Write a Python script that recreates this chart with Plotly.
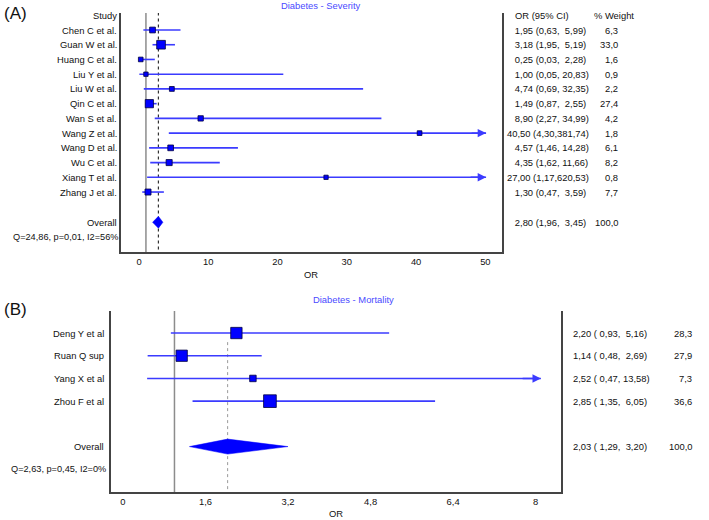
import plotly.graph_objects as go

# ---------------- data ----------------
sev_studies = ["Chen C et al.", "Guan W et al.", "Huang C et al.", "Liu Y et al.", "Liu W et al.",
               "Qin C et al.", "Wan S et al.", "Wang Z et al.", "Wang D et al.", "Wu C et al.",
               "Xiang T et al.", "Zhang J et al."]
sev_or = [1.95, 3.18, 0.25, 1.00, 4.74, 1.49, 8.90, 40.50, 4.57, 4.35, 27.00, 1.30]
sev_lo = [0.63, 1.95, 0.03, 0.05, 0.69, 0.87, 2.27, 4.30, 1.46, 1.62, 1.17, 0.47]
sev_hi = [5.99, 5.19, 2.28, 20.83, 32.35, 2.55, 34.99, 381.74, 14.28, 11.66, 620.53, 3.59]
sev_w = [6.3, 33.0, 1.6, 0.9, 2.2, 27.4, 4.2, 1.8, 6.1, 8.2, 0.8, 7.7]
sev_overall = [2.80, 1.96, 3.45]
sev_overall_w = 100.0
sev_het = "Q=24,86, p=0,01, I2=56%"
sev_title = "Diabetes - Severity"
sev_ticks = [0, 10, 20, 30, 40, 50]
sev_ticklabels = ["0", "10", "20", "30", "40", "50"]

mor_studies = ["Deng Y et al", "Ruan Q sup", "Yang X et al", "Zhou F et al"]
mor_or = [2.20, 1.14, 2.52, 2.85]
mor_lo = [0.93, 0.48, 0.47, 1.35]
mor_hi = [5.16, 2.69, 13.58, 6.05]
mor_w = [28.3, 27.9, 7.3, 36.6]
mor_overall = [2.03, 1.29, 3.20]
mor_overall_w = 100.0
mor_het = "Q=2,63, p=0,45, I2=0%"
mor_title = "Diabetes - Mortality"
mor_ticks = [0, 1.6, 3.2, 4.8, 6.4, 8]
mor_ticklabels = ["0", "1,6", "3,2", "4,8", "6,4", "8"]

# ---------------- styling ----------------
W, H = 709, 520
FONT = "Liberation Sans, Arial, sans-serif"
FS = 9.4
LINE_BLUE = "#3b3bff"
SQ_BLUE = "#0000ff"
TITLE_BLUE = "#4a4aff"
BOX = "#444444"
NBSP = "\u00a0"


def px(x):
    return x / W


def py(y):
    return 1 - y / H


def fmt2(v):
    return f"{v:.2f}".replace(".", ",")


def fmt1(v):
    return f"{v:.1f}".replace(".", ",")


fig = go.Figure()
ann = []


def panel(xa, ya, studies, orv, lo, hi, w, overall, overall_w, het, clip, dia_h,
          overall_row, het_row, sq_fn, dotted_top, dotted_style, label_right, col_text, col_w,
          hdr_or_x, hdr_w_x, ci_fmt):
    n = len(studies)
    rows = list(range(1, n + 1))
    # null line and overall dotted line
    fig.add_trace(go.Scatter(x=[1, 1], y=[-10, 100], mode="lines", xaxis=xa, yaxis=ya,
                             line=dict(color="#8c8c8c", width=1.5), hoverinfo="skip", showlegend=False))
    fig.add_trace(go.Scatter(x=[overall[0], overall[0]], y=[dotted_top, 100], mode="lines",
                             xaxis=xa, yaxis=ya, line=dotted_style,
                             hoverinfo="skip", showlegend=False))
    # CI lines
    lx, ly = [], []
    for r, a, b in zip(rows, lo, hi):
        lx += [a, min(b, clip), None]
        ly += [r, r, None]
    fig.add_trace(go.Scatter(x=lx, y=ly, mode="lines", xaxis=xa, yaxis=ya,
                             line=dict(color=LINE_BLUE, width=1.6), hoverinfo="skip", showlegend=False))
    # arrows for truncated CIs
    for r, a, b in zip(rows, lo, hi):
        if b > clip:
            ann.append(dict(x=clip, y=r, ax=clip - (clip - a) * 0.05, ay=r, xref=xa, yref=ya,
                            axref=xa, ayref=ya, showarrow=True, arrowhead=2, arrowsize=1.2,
                            arrowwidth=1.4, arrowcolor=LINE_BLUE, text=""))
    # squares
    fig.add_trace(go.Scatter(x=orv, y=rows, mode="markers", xaxis=xa, yaxis=ya, opacity=1,
                             marker=dict(symbol="square", size=[sq_fn(v) for v in w], color=SQ_BLUE,
                                         opacity=1, line=dict(color="#000040", width=0.8)),
                             hoverinfo="skip", showlegend=False))
    # diamond
    o, a, b = overall
    fig.add_trace(go.Scatter(x=[a, o, b, o, a], y=[overall_row, overall_row - dia_h, overall_row,
                                                   overall_row + dia_h, overall_row],
                             mode="lines", fill="toself", fillcolor=SQ_BLUE, xaxis=xa, yaxis=ya,
                             line=dict(color=SQ_BLUE, width=0.5), hoverinfo="skip", showlegend=False))

    def t(x, y, s, anchor, size=FS, color="#111111"):
        ann.append(dict(x=px(x), y=y, xref="paper", yref=ya, text=s, showarrow=False,
                        xanchor=anchor, yanchor="middle", font=dict(family=FONT, size=size, color=color)))
    t(label_right, 0, "Study", "right")
    for r, s in zip(rows, studies):
        t(label_right, r, s, "right")
    t(label_right, overall_row, "Overall", "right")
    t(label_right + 2, het_row, het, "right", size=FS - 0.2)
    # right columns
    t(hdr_or_x, 0, "OR (95% CI)", "left")
    t(hdr_w_x, 0, "% Weight", "left")
    allrows = rows + [overall_row]
    allor = orv + [o]
    alllo = lo + [a]
    allhi = hi + [b]
    allw = w + [overall_w]
    for r, v, l, h, ww in zip(allrows, allor, alllo, allhi, allw):
        t(col_text, r, ci_fmt(fmt2(v), fmt2(l), fmt2(h)), "left")
        t(col_w, r, fmt1(ww), "right")


def sev_fmt(v, l, h):
    vs = NBSP * (3 * (5 - len(v))) + v
    hs = (" " + NBSP * (5 - len(h)) if len(h) < 6 else "") + h
    return vs + " (" + l + "," + hs + ")"


def mor_fmt(v, l, h):
    hs = " " + NBSP * (5 - len(h)) + h
    return v + " ( " + l + "," + hs + ")"


panel("x", "y", sev_studies, sev_or, sev_lo, sev_hi, sev_w, sev_overall, sev_overall_w, sev_het,
      clip=50.1, dia_h=0.40, overall_row=14.05, het_row=15.05,
      sq_fn=lambda v: 3.5 + 0.9 * v ** 0.5, dotted_top=-1,
      dotted_style=dict(color="#333333", width=1.2, dash="dot"), label_right=119,
      col_text=505, col_w=620, hdr_or_x=513, hdr_w_x=592, ci_fmt=sev_fmt)
panel("x2", "y2", mor_studies, mor_or, mor_lo, mor_hi, mor_w, mor_overall, mor_overall_w, mor_het,
      clip=8.1, dia_h=0.33, overall_row=6, het_row=7,
      sq_fn=lambda v: 1.5 + 1.85 * v ** 0.5, dotted_top=1.4,
      dotted_style=dict(color="#9a9a9a", width=1.0, dash="dot"), label_right=106,
      col_text=571, col_w=694, hdr_or_x=573, hdr_w_x=662, ci_fmt=mor_fmt)


# titles, panel letters, axis titles
def pa(x, y, s, anchor="center", size=FS, color="#111111"):
    ann.append(dict(x=px(x), y=py(y), xref="paper", yref="paper", text=s, showarrow=False,
                    xanchor=anchor, yanchor="middle", font=dict(family=FONT, size=size, color=color)))


pa(321, 6, sev_title, color=TITLE_BLUE)
pa(353, 299, mor_title, color=TITLE_BLUE)
pa(2, 13, "(A)", anchor="left", size=17)
pa(2, 309, "(B)", anchor="left", size=17)
pa(311, 274, "OR")
pa(336, 513, "OR")

axis_common = dict(showgrid=False, zeroline=False, showline=True, linecolor=BOX, linewidth=1.6,
                   ticks="", tickfont=dict(family=FONT, size=FS, color="#111111"), fixedrange=True)
yaxis_common = dict(showticklabels=False, mirror=True, showgrid=False, zeroline=False, showline=True,
                    linecolor=BOX, linewidth=1.6, fixedrange=True)

fig.update_layout(
    width=W, height=H, margin=dict(l=0, r=0, t=0, b=0),
    paper_bgcolor="white", plot_bgcolor="white", showlegend=False,
    xaxis=dict(domain=[px(121), px(502)], range=[-2.6, 52.4], anchor="y",
               tickvals=sev_ticks, ticktext=sev_ticklabels, **axis_common),
    yaxis=dict(domain=[py(252), py(13)], range=[16.07, -0.154], anchor="x", **yaxis_common),
    xaxis2=dict(domain=[px(111), px(561)], range=[-0.23, 8.49], anchor="y2",
                tickvals=mor_ticks, ticktext=mor_ticklabels, **axis_common),
    yaxis2=dict(domain=[py(492), py(311)], range=[8.0, 0.03], anchor="x2", **yaxis_common),
    annotations=ann,
)

fig.write_html("out.html", config={"displayModeBar": False},
               post_script="document.body.style.margin='0';document.body.style.overflow='hidden';")
